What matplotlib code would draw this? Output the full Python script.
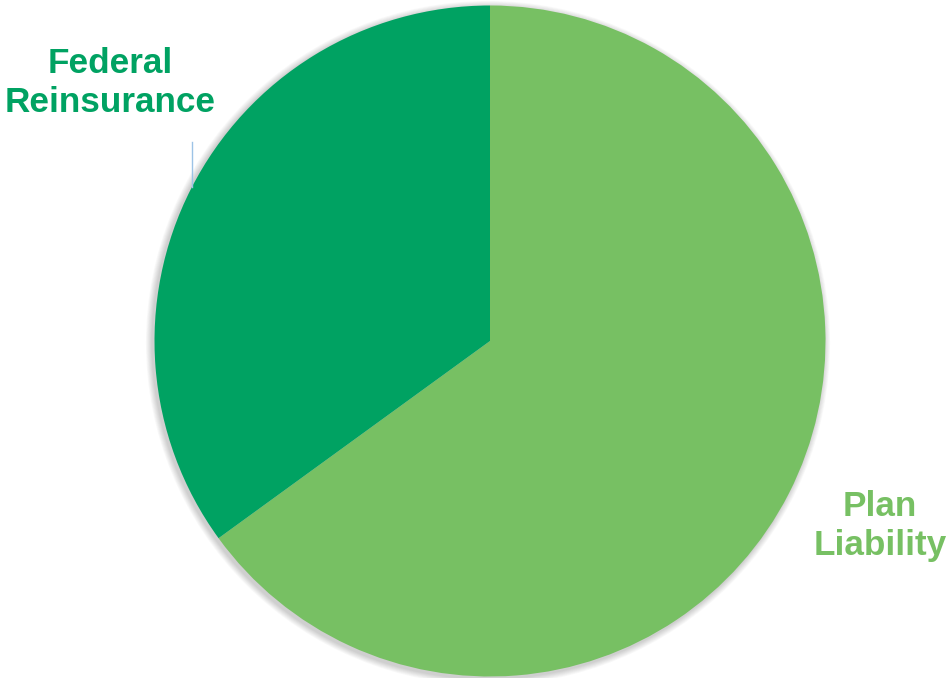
import matplotlib
matplotlib.use('Agg')
import matplotlib.pyplot as plt
from matplotlib.patches import Circle

labels = ['Plan\nLiability', 'Federal\nReinsurance']
shares = [65, 35]
colors = ['#77C063', '#00A262']

W, H = 947, 678
fig = plt.figure(figsize=(W / 100, H / 100), dpi=100)
ax = fig.add_axes([0, 0, 1, 1])
ax.set_xlim(0, W)
ax.set_ylim(0, H)
ax.set_aspect('equal')
ax.axis('off')

cx, cy, r = 490, H - 341, 335.5

# soft shadow around the pie
for i in range(8):
    ax.add_patch(Circle((cx - 2, cy - 2), r + 1 + i * 0.8, color='black',
                        alpha=0.025, lw=0, zorder=1))

ax.pie(shares, colors=colors, startangle=90, counterclock=False,
       center=(cx, cy), radius=r, frame=True,
       wedgeprops=dict(linewidth=0, zorder=2))
ax.set_xlim(0, W)
ax.set_ylim(0, H)
ax.axis('off')

font = dict(family='Liberation Sans', weight='bold', fontsize=25.3,
            ha='center', va='center', linespacing=1.22)
ax.text(110, H - 83, labels[1], color=colors[1], **font)
ax.text(880, H - 526, labels[0], color=colors[0], **font)

# leader line
ax.plot([192, 192], [H - 142, H - 187], color='#9DC3E6', lw=1)

fig.savefig('out.png', dpi=100)
